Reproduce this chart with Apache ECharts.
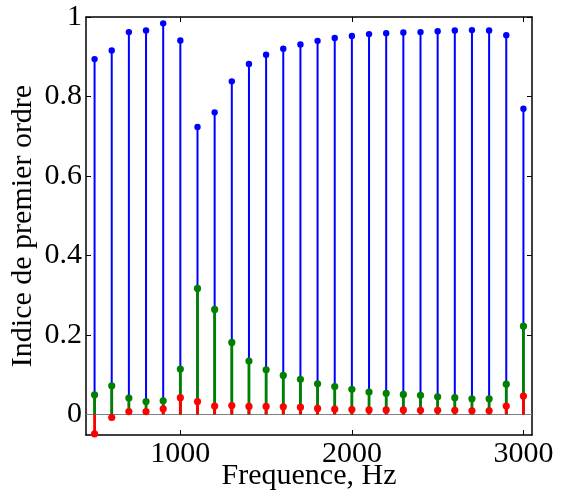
<!DOCTYPE html>
<html>
<head>
<meta charset="utf-8">
<script src="https://cdn.jsdelivr.net/npm/echarts@6/dist/echarts.min.js"></script>
<style>
  html, body { margin: 0; padding: 0; background: #fff; }
  #chart { width: 563px; height: 492px; }
</style>
</head>
<body>
<div id="chart"></div>
<script>
const freq = [500, 600, 700, 800, 900, 1000, 1100, 1200, 1300, 1400, 1500, 1600, 1700,
  1800, 1900, 2000, 2100, 2200, 2300, 2400, 2500, 2600, 2700, 2800, 2900, 3000];
const blueVals = [0.894, 0.916, 0.962, 0.966, 0.984, 0.941, 0.723, 0.760, 0.838, 0.882, 0.905, 0.920, 0.931,
  0.940, 0.947, 0.952, 0.957, 0.959, 0.961, 0.962, 0.964, 0.966, 0.967, 0.966, 0.954, 0.769];
const greenVals = [0.049, 0.072, 0.041, 0.032, 0.034, 0.114, 0.317, 0.264, 0.181, 0.134, 0.112, 0.098, 0.088,
  0.077, 0.070, 0.063, 0.056, 0.053, 0.050, 0.048, 0.044, 0.042, 0.039, 0.039, 0.076, 0.222];
const redVals = [-0.049, -0.008, 0.007, 0.007, 0.014, 0.042, 0.032, 0.021, 0.022, 0.020, 0.020, 0.019, 0.018,
  0.015, 0.013, 0.012, 0.011, 0.011, 0.011, 0.010, 0.010, 0.010, 0.009, 0.009, 0.021, 0.046];
const xTicks = [1000, 2000, 3000];
const yTicks = [0, 0.2, 0.4, 0.6, 0.8, 1];

const serif = "Liberation Serif";
const tickFont = { fontFamily: serif, fontSize: 30, color: "#000" };

// one stem series: vertical line from 0 up to the value, dot at the end
const stemSeries = (name, color, values, lineW, r) => ({
  type: "custom",
  name,
  clip: false,
  data: freq.map((f, i) => [f, values[i]]),
  renderItem(params, api) {
    const base = api.coord([api.value(0), 0]);
    const top = api.coord([api.value(0), api.value(1)]);
    return {
      type: "group",
      children: [
        {
          type: "line",
          shape: { x1: base[0], y1: base[1], x2: top[0], y2: top[1] },
          style: { stroke: color, lineWidth: lineW },
        },
        {
          type: "circle",
          shape: { cx: top[0], cy: top[1], r },
          style: { fill: color },
        },
      ],
    };
  },
});

const axisCommon = {
  axisLine: { show: true, onZero: false, lineStyle: { color: "#000", width: 1.5 } },
  axisTick: { show: true, inside: true, length: 5, lineStyle: { color: "#000", width: 1 } },
  splitLine: { show: false },
};

const option = {
  backgroundColor: "#fff",
  animation: false,
  textStyle: { fontFamily: serif },
  grid: { left: 86, right: 31, top: 17, bottom: 57, outerBoundsMode: "none" },
  xAxis: [
    {
      ...axisCommon,
      type: "value",
      position: "bottom",
      min: 450,
      max: 3050,
      axisTick: { ...axisCommon.axisTick, customValues: xTicks },
      axisLabel: {
        customValues: xTicks,
        formatter: (v) => "{t|" + v + "}",
        margin: 4,
        ...tickFont,
        rich: { t: tickFont },
      },
      name: "Frequence, Hz",
      nameLocation: "middle",
      nameGap: 26,
      nameMoveOverlap: false,
      nameTextStyle: { fontFamily: serif, fontSize: 30, color: "#000" },
    },
    {
      ...axisCommon,
      type: "value",
      position: "top",
      min: 450,
      max: 3050,
      axisTick: { ...axisCommon.axisTick, customValues: xTicks },
      axisLabel: { show: false },
    },
  ],
  yAxis: [
    {
      ...axisCommon,
      type: "value",
      position: "left",
      min: -0.052,
      max: 1,
      axisTick: { ...axisCommon.axisTick, customValues: yTicks },
      axisLabel: {
        customValues: yTicks,
        formatter: (v) => "{t|" + v + "}",
        margin: 4,
        ...tickFont,
        rich: { t: tickFont },
      },
      name: "Indice de premier ordre",
      nameLocation: "middle",
      nameGap: 48,
      nameMoveOverlap: false,
      nameTextStyle: { fontFamily: serif, fontSize: 30, color: "#000" },
    },
    {
      ...axisCommon,
      type: "value",
      position: "right",
      min: -0.052,
      max: 1,
      axisTick: { ...axisCommon.axisTick, customValues: yTicks },
      axisLabel: { show: false },
    },
  ],
  series: [
    {
      ...stemSeries("blue", "#0000ff", blueVals, 2, 3.2),
      markLine: {
        silent: true,
        symbol: "none",
        label: { show: false },
        lineStyle: { color: "#808080", width: 1, type: "solid" },
        data: [{ yAxis: 0 }],
        z: 1,
      },
    },
    stemSeries("green", "#008000", greenVals, 2.8, 3.6),
    stemSeries("red", "#ff0000", redVals, 2.8, 3.6),
  ],
};

const myChart = echarts.init(document.getElementById("chart"));
myChart.setOption(option);
</script>
</body>
</html>
